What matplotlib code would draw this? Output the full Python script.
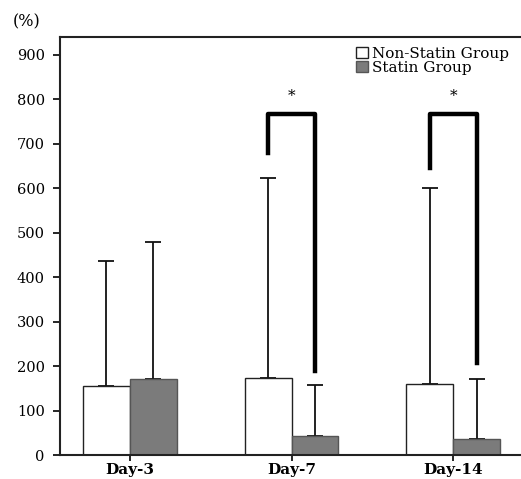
import matplotlib.pyplot as plt
import numpy as np

days = ["Day-3", "Day-7", "Day-14"]
non_statin = [155, 174, 160]
non_statin_err = [282, 448, 440]
statin = [172, 42, 37]
statin_err = [308, 116, 133]
# significance brackets: (group, left top, right top, bracket height)
brackets = [(1, 680, 190, 766), (2, 645, 207, 766)]

plt.rcParams['font.family'] = ['DejaVu Serif']
fig = plt.figure(figsize=(5.21, 4.79), dpi=100)
ax = fig.add_axes([0.115, 0.05, 0.885, 0.873])

x = np.arange(len(days))
w = 0.29
ax.errorbar(x - w / 2, non_statin, yerr=[np.zeros(3), non_statin_err], fmt="none",
            ecolor="#111111", elinewidth=1.3, capsize=6, capthick=1.3, zorder=1)
ax.errorbar(x + w / 2, statin, yerr=[np.zeros(3), statin_err], fmt="none",
            ecolor="#111111", elinewidth=1.3, capsize=6, capthick=1.3, zorder=1)
ax.bar(x - w / 2, non_statin, w, color="white", edgecolor="#222222", linewidth=1.0,
       label="Non-Statin Group", zorder=2)
ax.bar(x + w / 2, statin, w, color="#7b7b7b", edgecolor="#555555", linewidth=1.0,
       label="Statin Group", zorder=2)

for g, yl, yr, top in brackets:
    ax.plot([g - w / 2, g - w / 2, g + w / 2, g + w / 2], [yl, top, top, yr],
            color="black", linewidth=3.2, solid_joinstyle="round", zorder=4)
    ax.text(g, top + 25, "*", ha="center", va="bottom", fontsize=11)

ax.set_xlim(-0.433, 2.42)
ax.set_ylim(0, 940)
ax.set_yticks(range(0, 1000, 100))
ax.set_xticks(x)
ax.set_xticklabels(days, fontweight="bold", fontsize=11)
ax.tick_params(axis="y", labelsize=10.5, length=5, width=1.2, pad=6)
ax.tick_params(axis="x", length=4, width=1.2, pad=1.5)
ax.spines["right"].set_visible(False)
for s in ["left", "bottom", "top"]:
    ax.spines[s].set_linewidth(1.5)
    ax.spines[s].set_color("#222222")

fig.text(0.025, 0.955, "(%)", fontsize=11.5, ha="left", va="center")
ax.legend(loc="upper right", bbox_to_anchor=(0.995, 1.0), frameon=False, fontsize=11,
          handlelength=0.75, handleheight=0.75, handletextpad=0.25, labelspacing=0.0,
          borderpad=0.15)

plt.savefig("out.png", dpi=100)
